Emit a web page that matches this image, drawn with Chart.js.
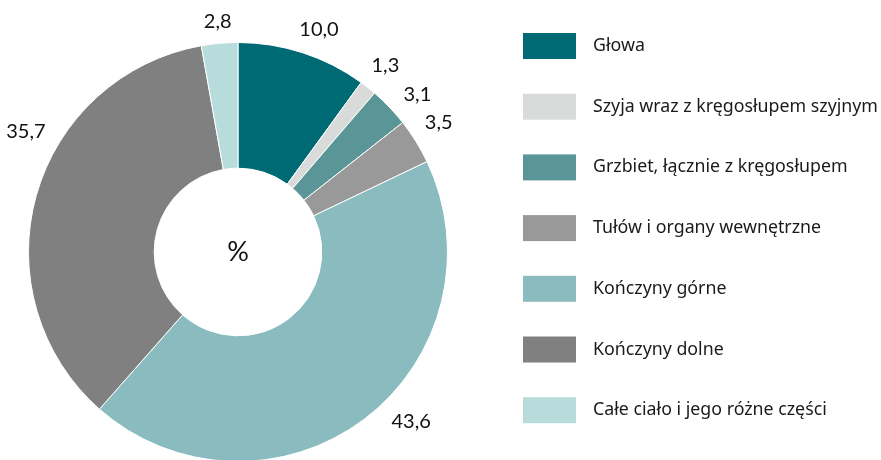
<!DOCTYPE html>
<html>
<head>
<meta charset="utf-8">
<script src="https://cdn.jsdelivr.net/npm/chart.js@4"></script>
<style>
  html, body { margin: 0; padding: 0; background: #fff; overflow: hidden; }
  #wrap { width: 881px; height: 462px; }
</style>
</head>
<body>
<div id="wrap"><canvas id="bodyChart" width="881" height="462"></canvas></div>
<script>
const categories = [
  "Głowa",
  "Szyja wraz z kręgosłupem szyjnym",
  "Grzbiet, łącznie z kręgosłupem",
  "Tułów i organy wewnętrzne",
  "Kończyny górne",
  "Kończyny dolne",
  "Całe ciało i jego różne części"
];
const shares = [10.0, 1.3, 3.1, 3.5, 43.6, 35.7, 2.8];
const centerText = "%";

const sliceColors = ["#006a74", "#d9dada", "#5a9698", "#999999", "#8abbbe", "#808080", "#b8dcdc"];

// small angle tweaks (degrees) so labels sit where the original put them
const labelNudge = { 0: 2, 2: 2.5, 3: -1, 4: -8.5, 5: 14 };

const valueLabels = {
  id: "valueLabels",
  afterDatasetsDraw(chart) {
    const ctx = chart.ctx;
    const meta = chart.getDatasetMeta(0);
    ctx.save();
    ctx.font = "20px Lato";
    ctx.fillStyle = "#111";
    ctx.textAlign = "center";
    ctx.textBaseline = "middle";
    meta.data.forEach((arc, i) => {
      const p = arc.getProps(["x", "y", "startAngle", "endAngle", "outerRadius"], true);
      const a = (p.startAngle + p.endAngle) / 2 + (labelNudge[i] || 0) * Math.PI / 180;
      const text = shares[i].toFixed(1).replace(".", ",");
      const w = ctx.measureText(text).width;
      const h = 14;
      const c = Math.cos(a), s = Math.sin(a);
      const d = p.outerRadius + 14 + Math.abs(c) * w / 2 + Math.abs(s) * h / 2;
      ctx.fillText(text, p.x + c * d, p.y + s * d);
    });
    // center label
    const first = meta.data[0];
    ctx.font = "27px Lato";
    ctx.fillText(centerText, first.x, first.y);
    ctx.restore();
  }
};

const sideLegend = {
  id: "sideLegend",
  afterDraw(chart) {
    const ctx = chart.ctx;
    ctx.save();
    ctx.font = "17.8px 'Noto Sans'";
    ctx.textBaseline = "middle";
    ctx.textAlign = "left";
    categories.forEach((name, i) => {
      const cy = 46 + i * 60.7;
      ctx.fillStyle = sliceColors[i];
      ctx.fillRect(523, cy - 13, 53, 26);
      ctx.fillStyle = "#1a1a1a";
      ctx.fillText(name, 593, cy);
    });
    ctx.restore();
  }
};

new Chart(document.getElementById("bodyChart"), {
  type: "doughnut",
  data: {
    labels: categories,
    datasets: [{
      data: shares,
      backgroundColor: sliceColors,
      borderColor: "#fff",
      borderWidth: 1
    }]
  },
  options: {
    responsive: false,
    animation: false,
    cutout: "40%",
    layout: {
      padding: { left: 28, right: 433, top: 42, bottom: 0 }
    },
    plugins: {
      legend: { display: false },
      tooltip: { enabled: false }
    }
  },
  plugins: [valueLabels, sideLegend]
});
</script>
</body>
</html>
